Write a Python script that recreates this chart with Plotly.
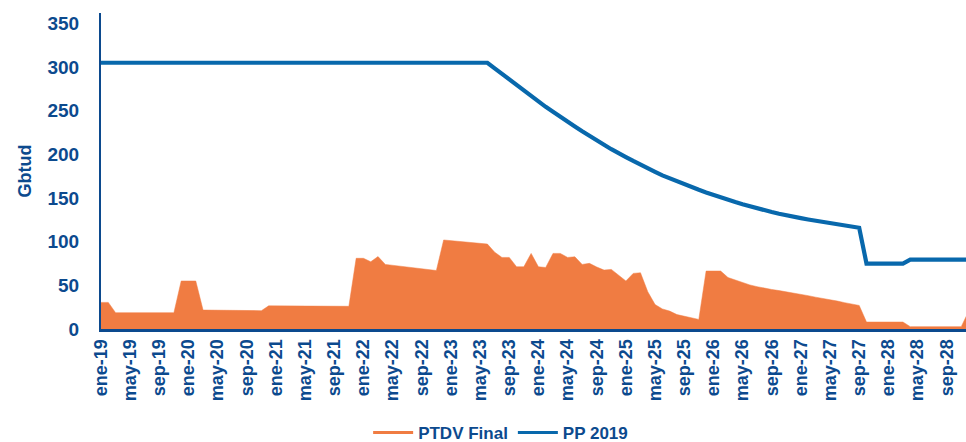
import plotly.graph_objects as go

# ---- data -------------------------------------------------------------
month_names = ["ene", "feb", "mar", "abr", "may", "jun",
               "jul", "ago", "sep", "oct", "nov", "dic"]
years = list(range(19, 29))
categories = [f"{m}-{y}" for y in years for m in month_names]  # ene-19 .. dic-28

ptdv_final = [
    30.5, 30.5, 18.7, 18.7, 18.7, 18.7, 18.7, 18.7, 18.7, 18.7,
    18.7, 55.0, 55.0, 55.0, 21.7, 21.6, 21.5, 21.4, 21.3, 21.2,
    21.1, 21.0, 21.0, 26.5, 26.5, 26.4, 26.4, 26.3, 26.3, 26.2,
    26.2, 26.1, 26.1, 26.0, 26.0, 81.0, 81.0, 77.0, 83.0, 74.0,
    73.0, 72.0, 71.0, 70.0, 69.0, 68.0, 67.0, 102.0, 101.3, 100.5,
    99.7, 99.0, 98.2, 97.3, 88.0, 82.0, 82.0, 71.3, 71.3, 86.6,
    71.3, 70.5, 86.6, 86.6, 82.0, 82.7, 74.0, 75.2, 71.0, 67.5,
    68.3, 62.0, 55.0, 63.7, 64.4, 42.7, 28.0, 23.0, 20.5, 16.5,
    14.5, 12.5, 11.0, 66.4, 66.4, 66.4, 59.0, 56.0, 53.0, 50.5,
    48.5, 46.5, 45.3, 44.0, 42.7, 41.2, 39.7, 38.2, 36.5, 35.2,
    33.8, 32.0, 30.2, 28.6, 27.0, 8.0, 8.0, 8.0, 8.0, 8.0,
    8.0, 2.7, 2.7, 2.7, 2.7, 2.7, 2.7, 2.7, 2.7, 20.0,
]

pp_2019 = [
    305, 305, 305, 305, 305, 305, 305, 305, 305, 305,
    305, 305, 305, 305, 305, 305, 305, 305, 305, 305,
    305, 305, 305, 305, 305, 305, 305, 305, 305, 305,
    305, 305, 305, 305, 305, 305, 305, 305, 305, 305,
    305, 305, 305, 305, 305, 305, 305, 305, 305, 305,
    305, 305, 305, 305, 298.5, 292, 285.5, 279, 272.5, 266.5,
    260.5, 254.5, 249, 243, 237.5, 232, 226.5, 221, 216, 211,
    206, 201, 197, 192.5, 188, 184, 180, 176, 172.5, 169,
    165.5, 162.5, 159.5, 156.5, 153.5, 151, 148, 145.5, 143, 140.5,
    138, 136, 134, 132, 130, 128.5, 127, 125.5, 124, 122.5,
    121, 119.5, 118.5, 117, 116, 75, 75, 75, 75, 75,
    75, 79.5, 79.5, 79.5, 79.5, 79.5, 79.5, 79.5, 79.5, 79.5,
]

tick_step = 4
tick_labels = categories[::tick_step]          # ene-19, may-19, ... sep-28
y_ticks = [0, 50, 100, 150, 200, 250, 300, 350]

# ---- styling ----------------------------------------------------------
ORANGE = "#F07C42"
BLUE = "#0868AC"
NAVY = "#0C4A8E"
FONT = "Liberation Sans, Arial, sans-serif"

x_idx = list(range(len(categories)))

fig = go.Figure()
fig.add_trace(go.Scatter(
    x=x_idx, y=ptdv_final, mode="lines", fill="tozeroy",
    line=dict(color=ORANGE, width=0.5), fillcolor=ORANGE,
    name="PTDV Final", showlegend=False, hovertext=categories,
))
fig.add_trace(go.Scatter(
    x=x_idx, y=pp_2019, mode="lines",
    line=dict(color=BLUE, width=4.2),
    name="PP 2019", showlegend=False, hovertext=categories,
))
# legend entries (line swatches)
fig.add_trace(go.Scatter(x=[None], y=[None], mode="lines",
                         line=dict(color=ORANGE, width=3), name="PTDV Final"))
fig.add_trace(go.Scatter(x=[None], y=[None], mode="lines",
                         line=dict(color=BLUE, width=3), name="PP 2019"))

fig.update_layout(
    width=966, height=442,
    margin=dict(l=101, r=0, t=13, b=113, autoexpand=False),
    paper_bgcolor="white", plot_bgcolor="white",
    font=dict(family=FONT, color=NAVY, size=19, weight="bold"),
    hovermode=False,
    showlegend=True,
    legend=dict(orientation="h", x=0.462, xanchor="center",
                y=-0.329, yanchor="middle",
                font=dict(family=FONT, color=NAVY, size=17, weight="bold"),
                itemwidth=40, traceorder="normal"),
)
fig.update_xaxes(
    range=[0, 118.65],
    automargin=False,
    tickmode="array",
    tickvals=x_idx[::tick_step],
    ticktext=tick_labels,
    tickangle=-90,
    tickfont=dict(family=FONT, color=NAVY, size=18, weight="bold"),
    showgrid=False, zeroline=False,
    showline=True, linecolor=NAVY, linewidth=3,
    ticks="", ticklabelstandoff=0,
)
fig.update_yaxes(
    range=[0, 362],
    automargin=False,
    tickmode="array", tickvals=y_ticks,
    tickfont=dict(family=FONT, color=NAVY, size=19, weight="bold"),
    showgrid=False, zeroline=False,
    showline=True, linecolor=NAVY, linewidth=2,
    ticks="", ticklabelstandoff=16,
    title=dict(text="Gbtud", standoff=11,
               font=dict(family=FONT, color=NAVY, size=18, weight="bold")),
)

fig.write_html(
    "out.html",
    config={"displayModeBar": False},
    post_script="document.body.style.margin='0';"
                "document.documentElement.style.overflow='hidden';",
)
